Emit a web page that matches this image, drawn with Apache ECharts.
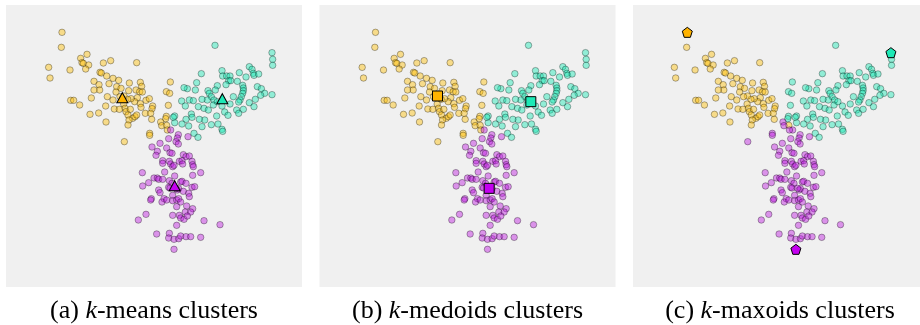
<!DOCTYPE html>
<html>
<head>
<meta charset="utf-8">
<script src="https://cdn.jsdelivr.net/npm/echarts@6/dist/echarts.min.js"></script>
<style>
  html, body { margin: 0; padding: 0; background: #fff; }
  #chart { width: 920px; height: 325px; }
</style>
</head>
<body>
<div id="chart"></div>
<script>
// Point coordinates (x right, y down)
const yellowPoints = [
  [186,97],[184,142],[146,202],[150,234],[210,210],[242,175],[246,188],[250,190],[261,163],[266,195],
  [257,207],[310,189],[332,182],[410,188],[300,217],[304,219],[320,228],[282,244],[297,254],[299,270],
  [282,270],[327,251],[339,235],[356,241],[350,260],[348,276],[322,290],[274,294],[212,301],[221,301],
  [239,315],[296,339],[270,343],[318,366],[317,318],[343,327],[339,300],[363,265],[388,249],[386,272],
  [408,270],[421,247],[425,259],[419,275],[427,276],[412,293],[404,305],[393,296],[383,298],[438,301],
  [448,296],[421,311],[423,322],[371,312],[375,325],[378,335],[391,328],[384,345],[398,355],[405,350],
  [410,345],[387,360],[384,375],[358,328],[436,340],[458,318],[456,326],[452,340],[455,358],[511,246],
  [499,275],[509,280],[505,316],[499,349],[497,356],[482,366],[485,377],[500,376],[502,390],[449,400],
  [449,406],[373,425],[372,288],[360,290]
]
const tealPoints = [
  [645,136],[816,158],[818,178],[818,196],[816,284],[604,221],[666,212],[668,228],[680,228],[690,228],
  [686,242],[692,242],[678,254],[712,244],[718,218],[738,231],[748,200],[756,208],[760,220],[762,226],
  [776,222],[728,256],[730,264],[730,272],[728,280],[724,290],[720,300],[716,306],[700,290],[690,312],
  [710,330],[716,340],[730,328],[748,308],[762,320],[766,298],[772,260],[784,266],[794,280],[782,286],
  [652,257],[646,270],[624,272],[628,280],[634,290],[642,300],[622,300],[606,298],[590,248],[586,270],
  [562,266],[552,263],[568,300],[545,303],[556,318],[580,302],[595,320],[612,325],[625,330],[640,315],
  [652,305],[666,318],[674,336],[684,346],[650,348],[614,360],[598,358],[574,342],[576,352],[558,358],
  [546,372],[524,348],[524,368],[566,378],[606,380],[634,374],[654,372],[666,388],[668,394],[582,400],
  [594,412],[520,352]
]
const purplePoints = [
  [512,390],[535,404],[532,414],[528,425],[506,416],[480,430],[456,441],[500,444],[564,410],[472,454],
  [468,466],[510,458],[516,460],[535,432],[550,464],[558,470],[568,468],[488,482],[488,490],[508,484],
  [512,492],[518,500],[522,496],[538,484],[546,482],[548,492],[576,484],[578,494],[580,500],[494,516],
  [427,518],[602,518],[578,526],[524,528],[462,534],[472,534],[476,538],[488,538],[446,548],[428,558],
  [508,542],[516,550],[542,546],[546,544],[558,550],[506,562],[510,564],[532,570],[536,566],[527,565],
  [576,562],[584,560],[550,574],[566,580],[568,590],[476,570],[480,578],[518,586],[518,602],[492,596],
  [486,606],[454,596],[452,600],[530,600],[536,596],[542,606],[500,600],[530,620],[560,618],[578,626],
  [556,636],[572,636],[538,646],[542,654],[552,658],[562,648],[518,646],[438,643],[415,660],[612,662],
  [660,674],[530,676],[470,702],[508,700],[506,714],[522,718],[536,716],[542,708],[558,710],[572,710],
  [602,712],[522,748]
]
// k-maxoids: points that leave the yellow cluster
const maxoidToTeal = [[511,246],[499,275],[509,280],[505,316],[499,349],[497,356]]
const maxoidToPurple = [[482,366],[485,377],[502,390],[449,400],[449,406],[373,425]]

// cluster centres per method
const centroids = [[367,293],[667,296],[524,557]]
const medoids = [[372,288],[652,305],[527,565]]
const maxoids = [[186,97],[816,158],[522,748]]

const captions = ['(a) ', '(b) ', '(c) ']
const captionTail = ['-means clusters', '-medoids clusters', '-maxoids clusters']

const fills = ['#ffc20a', '#1de9b6', '#bf1fe0']
const centreFills = ['#ffb300', '#1de9b6', '#c400f0']
const centreSymbols = ['triangle', 'rect', 'path://M0,-10 L9.51,-3.09 L5.88,8.09 L-5.88,8.09 L-9.51,-3.09 Z']
const centreSizes = [[11, 10], [10, 10], [10, 10]]

const same = (a, b) => a[0] === b[0] && a[1] === b[1]
const inList = (p, list) => list.some((q) => same(p, q))

const maxoidYellow = yellowPoints.filter((p) => !inList(p, maxoidToTeal) && !inList(p, maxoidToPurple))
const clusterSets = [
  [yellowPoints, tealPoints, purplePoints],
  [yellowPoints, tealPoints, purplePoints],
  [maxoidYellow, tealPoints.concat(maxoidToTeal), purplePoints.concat(maxoidToPurple)],
]
const centreSets = [centroids, medoids, maxoids]

const panelLeft = [6, 319.5, 633]
const panelWidth = 296

const chart = echarts.init(document.getElementById('chart'), null, { renderer: 'canvas' })

const grid = [], xAxis = [], yAxis = [], series = [], graphic = []
panelLeft.forEach((left, i) => {
  grid.push({
    left: left, top: 5, width: panelWidth, height: 282,
    show: true, backgroundColor: '#f0f0f0', borderWidth: 0,
  })
  xAxis.push({ gridIndex: i, type: 'value', min: 18, max: 906, show: false })
  yAxis.push({ gridIndex: i, type: 'value', min: 15, max: 861, inverse: true, show: false })

  clusterSets[i].forEach((pts, c) => {
    series.push({
      type: 'scatter', xAxisIndex: i, yAxisIndex: i,
      data: pts, symbol: 'circle', symbolSize: 6.5,
      itemStyle: { color: fills[c], borderColor: '#000', borderWidth: 0.7, opacity: 0.45 },
      silent: true, animation: false,
    })
  })
  centreSets[i].forEach((p, c) => {
    series.push({
      type: 'scatter', xAxisIndex: i, yAxisIndex: i,
      data: [p], symbol: centreSymbols[i], symbolSize: centreSizes[i],
      itemStyle: { color: centreFills[c], borderColor: '#000', borderWidth: 1, opacity: 1 },
      z: 5, silent: true, animation: false,
    })
  })

  // caption below each panel, centred on it
  const cx = Math.min(left + panelWidth / 2, 780)
  graphic.push({
    type: 'text', x: cx, y: 311,
    style: {
      text: '{n|' + captions[i] + '}{k|k}{n|' + captionTail[i] + '}',
      rich: {
        n: { fontFamily: 'Liberation Serif', fontSize: 26, fill: '#000' },
        k: { fontFamily: 'Liberation Serif', fontSize: 26, fontStyle: 'italic', fill: '#000' },
      },
      align: 'center', verticalAlign: 'middle',
    },
  })
})

chart.setOption({ animation: false, grid, xAxis, yAxis, series, graphic })
</script>
</body>
</html>
